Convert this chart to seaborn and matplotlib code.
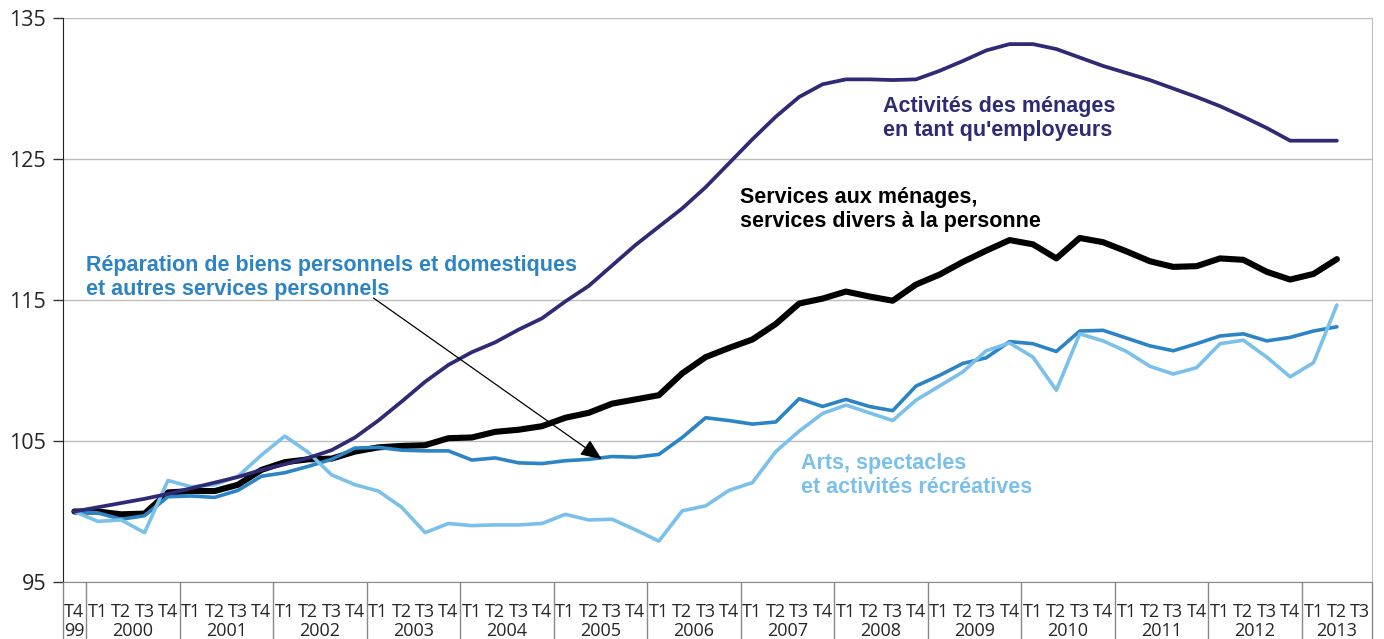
import matplotlib
matplotlib.use("Agg")
import matplotlib.pyplot as plt
import matplotlib.transforms as mtransforms
import numpy as np
import pandas as pd
import seaborn as sns

# quarters T4 1999 .. T2 2013 (index 0..54); axis runs to T3 2013
quarters = ["T4"] + ["T1", "T2", "T3", "T4"] * 13 + ["T1", "T2", "T3"]
years = ["99"] + [str(y) for y in range(2000, 2014)]

employeurs = [100.0, 100.3, 100.6, 100.9, 101.25, 101.65, 102.05, 102.45, 102.95, 103.35,
              103.8, 104.35, 105.25, 106.45, 107.8, 109.2, 110.4, 111.3, 112.0, 112.9,
              113.7, 114.9, 116.0, 117.45, 118.9, 120.2, 121.5, 123.0, 124.7, 126.4,
              128.0, 129.4, 130.3, 130.65, 130.65, 130.6, 130.65, 131.25, 131.95, 132.7,
              133.15, 133.15, 132.8, 132.2, 131.6, 131.1, 130.6, 130.0, 129.4, 128.75,
              128.0, 127.2, 126.3, 126.3, 126.3]
services = [100.0, 100.0, 99.8, 99.85, 101.35, 101.45, 101.45, 101.9, 102.95, 103.5,
            103.7, 103.75, 104.25, 104.55, 104.65, 104.7, 105.2, 105.25, 105.65, 105.8,
            106.05, 106.65, 107.0, 107.65, 107.95, 108.25, 109.8, 110.95, 111.6, 112.2,
            113.3, 114.75, 115.1, 115.6, 115.25, 114.95, 116.1, 116.8, 117.7, 118.5,
            119.25, 118.95, 117.95, 119.4, 119.1, 118.45, 117.75, 117.35, 117.4, 117.95,
            117.85, 117.0, 116.45, 116.85, 117.9]
reparation = [100.0, 99.9, 99.45, 99.7, 101.05, 101.1, 101.0, 101.5, 102.5, 102.75,
              103.2, 103.7, 104.5, 104.55, 104.35, 104.3, 104.3, 103.65, 103.8, 103.45,
              103.4, 103.6, 103.7, 103.9, 103.85, 104.05, 105.25, 106.65, 106.45, 106.2,
              106.35, 108.0, 107.45, 107.95, 107.45, 107.15, 108.9, 109.65, 110.5, 110.9,
              112.05, 111.9, 111.35, 112.8, 112.85, 112.3, 111.75, 111.4, 111.9, 112.45,
              112.6, 112.1, 112.35, 112.8, 113.1]
arts = [100.0, 99.3, 99.4, 98.5, 102.2, 101.75, 101.9, 102.5, 104.0, 105.35,
        104.2, 102.6, 101.9, 101.45, 100.3, 98.5, 99.15, 99.0, 99.05, 99.05,
        99.15, 99.8, 99.4, 99.45, 98.7, 97.9, 100.05, 100.4, 101.5, 102.05,
        104.25, 105.7, 106.95, 107.55, 107.0, 106.45, 107.9, 108.9, 109.9, 111.4,
        111.95, 110.95, 108.6, 112.6, 112.1, 111.35, 110.3, 109.75, 110.2, 111.9,
        112.15, 110.95, 109.55, 110.55, 114.65]

PURPLE, BLUE, LIGHT, BLACK = "#2E2A74", "#2D84C5", "#7BC0EA", "#000000"
GRID = "#BDBDBD"

sns.set_style("white")
plt.rcParams["font.family"] = ["Open Sans", "DejaVu Sans"]

df = pd.DataFrame({"idx": np.arange(len(services)), "services": services,
                   "reparation": reparation, "arts": arts, "employeurs": employeurs})

fig = plt.figure(figsize=(13.84, 6.39), dpi=100)
ax = fig.add_axes([0.0453, 0.0892, 0.9460, 0.8826])

sns.lineplot(data=df, x="idx", y="services", color=BLACK, lw=4.4, ax=ax)
sns.lineplot(data=df, x="idx", y="reparation", color=BLUE, lw=2.6, ax=ax)
sns.lineplot(data=df, x="idx", y="arts", color=LIGHT, lw=2.6, ax=ax)
sns.lineplot(data=df, x="idx", y="employeurs", color=PURPLE, lw=2.7, ax=ax)

ax.set_xlim(-0.5, len(quarters) - 0.5)
ax.set_ylim(95, 135)
ax.set_yticks([95, 105, 115, 125, 135])
ax.yaxis.grid(True, color=GRID, lw=1)
ax.set_axisbelow(True)
ax.set_xlabel("")
ax.set_ylabel("")
ax.tick_params(axis="y", direction="out", length=7, width=1, color="#333333",
               labelsize=15.5, pad=5, left=True)
ax.spines["left"].set_color("#222222")
ax.spines["bottom"].set_color("#888888")
ax.spines["top"].set_visible(False)
ax.spines["right"].set_color(GRID)

# quarter labels + separators
ax.set_xticks(np.arange(len(quarters)))
ax.set_xticklabels(quarters, fontsize=13)
ax.tick_params(axis="x", length=0, pad=15)
ax.set_xticks(np.arange(len(quarters) + 1) - 0.5, minor=True)
ax.tick_params(axis="x", which="minor", length=28, width=1, color="#888888", direction="out")

trans = mtransforms.blended_transform_factory(ax.transData, ax.transAxes)
year_edges = [-0.5, 0.5] + [0.5 + 4 * k for k in range(1, 14)] + [len(quarters) - 0.5]
for xe in year_edges:
    ax.plot([xe, xe], [0, -0.11], color="#888888", lw=1, transform=trans, clip_on=False)
year_centers = [0] + [2.5 + 4 * k for k in range(13)] + [54]
for yr, xc in zip(years, year_centers):
    ax.text(xc, -0.0875, yr, transform=trans, ha="center", va="center", fontsize=13)

lab = dict(fontsize=15.5, fontweight="bold", family=["Liberation Sans", "DejaVu Sans"],
           ha="left", va="center", linespacing=1.2)
ax.text(34.6, 127.9, "Activités des ménages\nen tant qu'employeurs", color=PURPLE, **lab)
ax.text(28.45, 121.4, "Services aux ménages,\nservices divers à la personne", color=BLACK, **lab)
ax.text(0.5, 116.6, "Réparation de biens personnels et domestiques\net autres services personnels",
        color=BLUE, **lab)
ax.text(31.1, 102.55, "Arts, spectacles\net activités récréatives", color=LIGHT, **lab)

ax.annotate("", xy=(22.65, 103.6), xytext=(12.7, 115.25),
            arrowprops=dict(arrowstyle="-|>,head_length=1.3,head_width=0.55", color="black", lw=0.9))

fig.savefig("out.png", dpi=100)
